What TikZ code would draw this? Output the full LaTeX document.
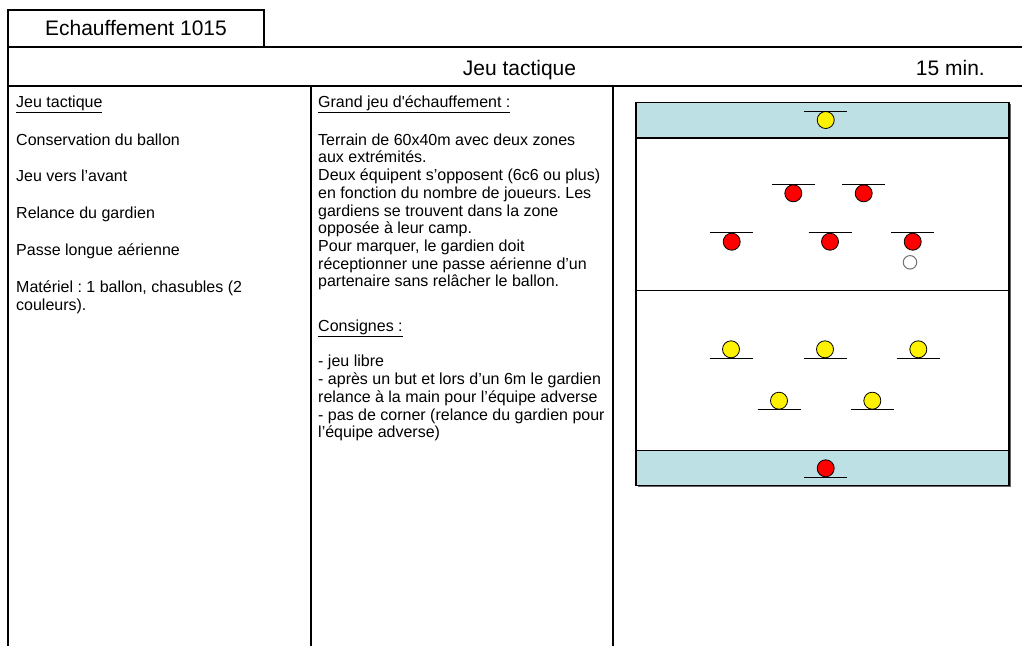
\documentclass[tikz,border=0pt]{standalone}
\usepackage{fontspec}
\setmainfont{Liberation Sans}
\definecolor{zone}{HTML}{BCE0E3}
\frenchspacing
\begin{document}
\begin{tikzpicture}[x=1pt,y=-1pt,
    every node/.style={inner sep=0pt,font=\fontsize{16}{18}\selectfont},
    txt/.style={anchor=base west},
    cadre/.style={line width=2pt},
    joueur/.style={circle,draw=black,line width=0.8pt,minimum size=17pt},
    barre/.style={line width=1pt}]
  \useasboundingbox (0,0) rectangle (1022,646);
  % tableau
  \draw[cadre] (8,9.7) rectangle (264,46.5);
  \draw[cadre] (1022,46.5) -- (8,46.5) -- (8,646);
  \draw[cadre] (8,85.5) -- (1022,85.5);
  \draw[cadre] (310.5,85.5) -- (310.5,646);
  \draw[cadre] (613,85.5) -- (613,646);
  \node[anchor=base,font=\fontsize{21}{23}\selectfont] (titre) at (136,35.7) {Echauffement 1015};
  \node[anchor=base,font=\fontsize{21}{23}\selectfont] (theme) at (519.5,75) {Jeu tactique};
  \node[anchor=base east,font=\fontsize{21}{23}\selectfont] (duree) at (985,75) {15 min.};
  % colonne objectifs
  \node[txt] (obj) at (16,107.3) {\underline{Jeu tactique}};
  \node[txt] (obj1) at (16,145) {Conservation du ballon};
  \node[txt] (obj2) at (16,181.7) {Jeu vers l’avant};
  \node[txt] (obj3) at (16,218.3) {Relance du gardien};
  \node[txt] (obj4) at (16,255.7) {Passe longue aérienne};
  \node[txt] (mat1) at (16,292.3) {Matériel : 1 ballon, chasubles (2};
  \node[txt] (mat2) at (16,310) {couleurs).};
  % colonne description
  \node[txt] (desc) at (318,107.3) {\underline{Grand jeu d\textquotesingle échauffement :}};
  \node[txt] (d1) at (318,145) {Terrain de 60x40m avec deux zones};
  \node[txt] (d2) at (318,162.7) {aux extrémités.};
  \node[txt] (d3) at (318,180.7) {Deux équipent s’opposent (6c6 ou plus)};
  \node[txt] (d4) at (318,198.3) {en fonction du nombre de joueurs. Les};
  \node[txt] (d5) at (318,216) {gardiens se trouvent dans la zone};
  \node[txt] (d6) at (318,233.3) {opposée à leur camp.};
  \node[txt] (d7) at (318,251) {Pour marquer, le gardien doit};
  \node[txt] (d8) at (318,269) {réceptionner une passe aérienne d’un};
  \node[txt] (d9) at (318,286.7) {partenaire sans relâcher le ballon.};
  \node[txt] (cons) at (318,331.7) {\underline{Consignes :}};
  \node[txt] (c1) at (318,366.7) {- jeu libre};
  \node[txt] (c2) at (318,384.3) {- après un but et lors d’un 6m le gardien};
  \node[txt] (c3) at (318,402.3) {relance à la main pour l’équipe adverse};
  \node[txt] (c4) at (318,420) {- pas de corner (relance du gardien pour};
  \node[txt] (c5) at (318,437.7) {l’équipe adverse)};
  % terrain
  \fill[black!60] (637.5,104.2) rectangle (1010.5,487.2);
  \draw[line width=1.2pt,fill=white] (636,102.7) rectangle (1009,485.7);
  \draw[line width=1.2pt,fill=zone] (636,102.7) rectangle (1009,138);
  \draw[line width=1.2pt,fill=zone] (636,450.7) rectangle (1009,485.7);
  \draw[line width=1.2pt] (636,290.7) -- (1009,290.7);
  % joueurs
  \node[joueur,fill=yellow] (g1) at (825.7,120) {};
  \node[joueur,fill=red] (r1) at (793.3,193.3) {};
  \node[joueur,fill=red] (r2) at (863.7,193.3) {};
  \node[joueur,fill=red] (r3) at (731.7,241.7) {};
  \node[joueur,fill=red] (r4) at (830,241.7) {};
  \node[joueur,fill=red] (r5) at (912.7,241.7) {};
  \node[circle,draw=black!55,line width=1pt,fill=white,minimum size=13.5pt] (ballon) at (910,262.3) {};
  \node[joueur,fill=yellow] (y1) at (731,349.3) {};
  \node[joueur,fill=yellow] (y2) at (825,349.3) {};
  \node[joueur,fill=yellow] (y3) at (918.3,349.3) {};
  \node[joueur,fill=yellow] (y4) at (779,400.7) {};
  \node[joueur,fill=yellow] (y5) at (872.3,400.7) {};
  \node[joueur,fill=red] (g2) at (825.7,468.3) {};
  \foreach \p in {g1,r1,r2,r3,r4,r5}
    \draw[barre] ([xshift=-21.5pt]\p.north) -- ([xshift=21.5pt]\p.north);
  \foreach \p in {y1,y2,y3,y4,y5,g2}
    \draw[barre] ([xshift=-21.5pt]\p.south) -- ([xshift=21.5pt]\p.south);
\end{tikzpicture}
\end{document}
